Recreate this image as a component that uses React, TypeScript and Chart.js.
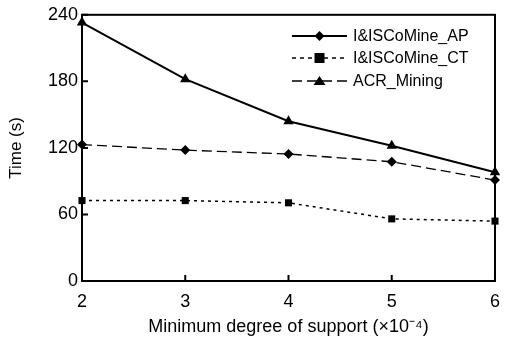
import React, { useEffect, useRef } from "react";
import { Chart, registerables } from "chart.js";

Chart.register(...registerables);

const xValues = [2, 3, 4, 5, 6];
const acrMining = [233, 182, 144, 122, 98];
const apValues = [123, 118, 114.5, 107.5, 91];
const ctValues = [72.5, 72.5, 70.5, 56, 54];
const legendLabels = ["I&ISCoMine_AP", "I&ISCoMine_CT", "ACR_Mining"];
const yTicks = [0, 60, 120, 180, 240];
const xTicks = [2, 3, 4, 5, 6];

const FONT = "'Liberation Sans', Arial, sans-serif";

const framePlugin = {
  id: "frameAndLegend",
  afterDraw(chart: any) {
    const ctx = chart.ctx;
    const a = chart.chartArea;
    const xs = chart.scales.x;
    const ys = chart.scales.y;
    ctx.save();
    ctx.strokeStyle = "#000";
    ctx.lineWidth = 2;
    ctx.strokeRect(a.left, a.top, a.right - a.left, a.bottom - a.top);
    ctx.lineWidth = 2;
    ctx.beginPath();
    yTicks.forEach((t) => {
      const y = ys.getPixelForValue(t);
      ctx.moveTo(a.left, y);
      ctx.lineTo(a.left + 6, y);
    });
    xTicks.forEach((t) => {
      const x = xs.getPixelForValue(t);
      ctx.moveTo(x, a.bottom);
      ctx.lineTo(x, a.bottom - 6);
    });
    ctx.stroke();

    // legend
    const lx0 = 292;
    const lx1 = 347;
    const rows = [36, 58, 81];
    const styles = [
      { dash: [], width: 2, shape: "diamond" },
      { dash: [4, 4], width: 1.5, shape: "square" },
      { dash: [10, 5], width: 1.5, shape: "triangle" },
    ];
    ctx.font = `16px ${FONT}`;
    ctx.fillStyle = "#000";
    ctx.textBaseline = "middle";
    rows.forEach((y, i) => {
      const s = styles[i];
      ctx.setLineDash(s.dash);
      ctx.lineWidth = s.width;
      ctx.beginPath();
      ctx.moveTo(lx0, y);
      ctx.lineTo(lx1, y);
      ctx.stroke();
      ctx.setLineDash([]);
      const cx = (lx0 + lx1) / 2;
      ctx.beginPath();
      if (s.shape === "diamond") {
        ctx.moveTo(cx, y - 5);
        ctx.lineTo(cx + 5, y);
        ctx.lineTo(cx, y + 5);
        ctx.lineTo(cx - 5, y);
      } else if (s.shape === "square") {
        ctx.rect(cx - 5, y - 5, 10, 10);
      } else {
        ctx.moveTo(cx, y - 5);
        ctx.lineTo(cx + 6, y + 4);
        ctx.lineTo(cx - 6, y + 4);
      }
      ctx.closePath();
      ctx.fill();
      ctx.fillText(legendLabels[i], 353, y + 1);
    });
    ctx.restore();
  },
};

export default function App() {
  const ref = useRef<HTMLCanvasElement | null>(null);
  useEffect(() => {
    document.body.style.margin = "0";
    const mk = (vals: number[]) => vals.map((v, i) => ({ x: xValues[i], y: v }));
    const chart = new Chart(ref.current!, {
      type: "line",
      data: {
        datasets: [
          {
            label: "ACR_Mining",
            data: mk(acrMining),
            borderColor: "#000",
            backgroundColor: "#000",
            borderWidth: 2,
            pointStyle: "triangle",
            pointRadius: 6,
            pointBorderWidth: 0,
            clip: false as any,
          },
          {
            label: "I&ISCoMine_AP",
            data: mk(apValues),
            borderColor: "#000",
            backgroundColor: "#000",
            borderWidth: 1.3,
            borderDash: [10, 5],
            pointStyle: "rectRot",
            pointRadius: 5,
            pointBorderWidth: 0,
            clip: false as any,
          },
          {
            label: "I&ISCoMine_CT",
            data: mk(ctValues),
            borderColor: "#000",
            backgroundColor: "#000",
            borderWidth: 1.5,
            borderDash: [3, 4],
            pointStyle: "rect",
            pointRadius: 5,
            pointBorderWidth: 0,
            clip: false as any,
          },
        ],
      },
      options: {
        responsive: false,
        animation: false,
        layout: { padding: { left: 0, top: 13, right: 7, bottom: 0 } },
        plugins: { legend: { display: false }, tooltip: { enabled: false } },
        scales: {
          x: {
            type: "linear",
            min: 2,
            max: 6,
            grid: { display: false, drawTicks: false },
            border: { display: false },
            ticks: {
              stepSize: 1,
              padding: 10,
              color: "#000",
              font: { family: FONT, size: 18 },
            },
            title: {
              display: true,
              text: "Minimum degree of support (×10⁻⁴)",
              color: "#000",
              font: { family: FONT, size: 18 },
              padding: { top: 0, bottom: 0 },
            },
            afterFit: (s: any) => {
              s.height = 57;
            },
          },
          y: {
            min: 0,
            max: 240,
            grid: { display: false, drawTicks: false },
            border: { display: false },
            ticks: {
              stepSize: 60,
              padding: 4,
              color: "#000",
              font: { family: FONT, size: 18 },
            },
            title: {
              display: true,
              text: "Time (s)",
              color: "#000",
              font: { family: FONT, size: 17 },
              padding: { top: 6, bottom: 0 },
            },
            afterFit: (s: any) => {
              s.width = 82;
            },
          },
        },
      },
      plugins: [framePlugin],
    });
    return () => chart.destroy();
  }, []);
  return <canvas ref={ref} width={510} height={338} style={{ display: "block" }} />;
}
